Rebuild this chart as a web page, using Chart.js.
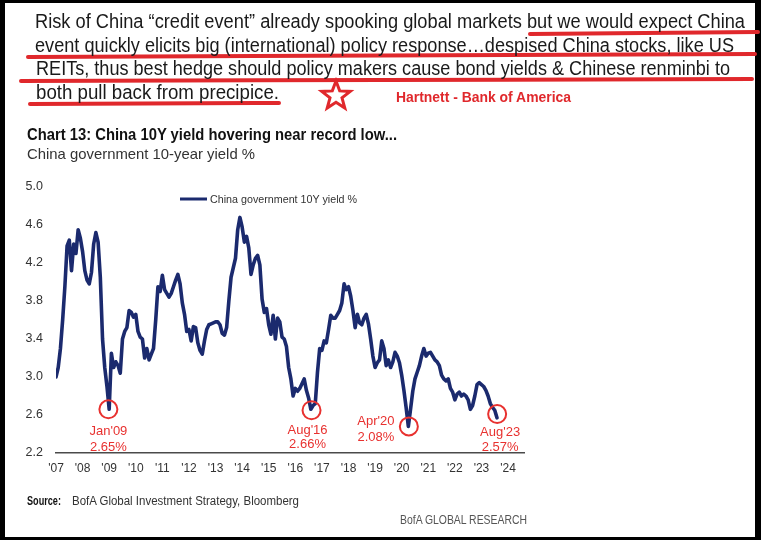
<!DOCTYPE html>
<html><head><meta charset="utf-8">
<script src="https://cdn.jsdelivr.net/npm/chart.js@4.4.0/dist/chart.umd.min.js"></script>
<style>
html,body{margin:0;padding:0;background:#000;width:761px;height:540px;overflow:hidden}
#page{position:absolute;left:5px;top:3px;width:750px;height:534px;background:#fff}
#c{position:absolute;left:0;top:0}
#ov{position:absolute;left:0;top:0;pointer-events:none;font-family:'Liberation Sans Narrow','Liberation Sans',Arial,sans-serif}
</style></head><body>
<div id="page"></div>
<canvas id="c" width="761" height="540"></canvas>
<svg id="ov" width="761" height="540" xmlns="http://www.w3.org/2000/svg">
  <g stroke="#e0282c" stroke-width="4" stroke-linecap="round">
    <line x1="530" y1="34" x2="758" y2="32"/>
    <line x1="28" y1="57" x2="755" y2="54"/>
    <line x1="21" y1="81" x2="752" y2="79"/>
    <line x1="30" y1="104" x2="279" y2="103"/>
  </g>
  <g fill="#1a1a1a" font-size="20">
    <text x="35" y="28" textLength="710" lengthAdjust="spacingAndGlyphs">Risk of China “credit event” already spooking global markets but we would expect China</text>
    <text x="35" y="51.5" textLength="699" lengthAdjust="spacingAndGlyphs">event quickly elicits big (international) policy response…despised China stocks, like US</text>
    <text x="36" y="75" textLength="694" lengthAdjust="spacingAndGlyphs">REITs, thus best hedge should policy makers cause bond yields &amp; Chinese renminbi to</text>
    <text x="36" y="98.5" textLength="243" lengthAdjust="spacingAndGlyphs">both pull back from precipice.</text>
  </g>
  <polygon id="star" fill="#fff" stroke="#e0282c" stroke-width="3" stroke-linejoin="miter"/>
  <text x="396" y="102" textLength="175" lengthAdjust="spacingAndGlyphs" font-weight="bold" font-size="14" fill="#e0282c">Hartnett - Bank of America</text>
  <text x="27" y="140" textLength="370" lengthAdjust="spacingAndGlyphs" font-weight="bold" font-size="16" fill="#111">Chart 13: China 10Y yield hovering near record low...</text>
  <text x="27" y="159" textLength="228" lengthAdjust="spacingAndGlyphs" font-size="14.5" fill="#333">China government 10-year yield %</text>
  <line x1="180" y1="199" x2="207" y2="199" stroke="#1b2a6e" stroke-width="3"/>
  <text x="210" y="203" textLength="147" lengthAdjust="spacingAndGlyphs" font-size="11.5" fill="#333">China government 10Y yield %</text>
  <text x="27" y="505" textLength="34" lengthAdjust="spacingAndGlyphs" font-weight="bold" font-size="12" fill="#111">Source:</text>
  <text x="72" y="505" textLength="227" lengthAdjust="spacingAndGlyphs" font-size="12" fill="#333">BofA Global Investment Strategy, Bloomberg</text>
  <text x="400" y="524" textLength="127" lengthAdjust="spacingAndGlyphs" font-size="12" fill="#555">BofA GLOBAL RESEARCH</text>
</svg>
<script>
// ---- data (monthly China 10Y government bond yield, %) ----
const years = [2007,2008,2009,2010,2011,2012,2013,2014,2015,2016,2017,2018,2019,2020,2021,2022,2023];
const y07 = [3.00,3.10,3.30,3.60,3.95,4.38,4.44,4.12,4.40,4.30,4.55,4.46];
const y08 = [4.32,4.12,4.02,3.98,4.10,4.40,4.52,4.42,4.05,3.40,3.10,2.90];
const y09 = [2.66,3.25,3.10,3.16,3.12,3.04,3.40,3.48,3.52,3.70,3.68,3.63];
const y10 = [3.66,3.48,3.42,3.40,3.20,3.30,3.18,3.24,3.30,3.60,3.95,3.90];
const y11 = [4.07,3.92,3.88,3.84,3.88,3.95,4.02,4.08,3.98,3.78,3.66,3.48];
const y12 = [3.50,3.38,3.53,3.52,3.36,3.28,3.24,3.38,3.50,3.55,3.56,3.57];
const y13 = [3.58,3.58,3.55,3.46,3.44,3.52,3.80,4.05,4.15,4.25,4.55,4.68];
const y14 = [4.58,4.42,4.48,4.36,4.08,4.18,4.25,4.28,4.18,3.82,3.68,3.72];
const y15 = [3.55,3.45,3.65,3.40,3.62,3.58,3.42,3.40,3.32,3.10,2.98,2.80];
const y16 = [2.88,2.85,2.88,2.93,2.98,2.86,2.78,2.66,2.70,2.72,3.05,3.30];
const y17 = [3.28,3.38,3.36,3.50,3.65,3.62,3.62,3.66,3.70,3.78,3.98,3.92];
const y18 = [3.95,3.85,3.70,3.52,3.66,3.57,3.55,3.62,3.66,3.56,3.40,3.22];
const y19 = [3.10,3.15,3.18,3.38,3.30,3.12,3.18,3.10,3.16,3.26,3.22,3.15];
const y20 = [3.02,2.86,2.68,2.48,2.66,2.85,2.98,3.05,3.12,3.22,3.30,3.22];
const y21 = [3.25,3.26,3.22,3.18,3.16,3.12,3.02,2.98,2.96,2.98,2.88,2.84];
const y22 = [2.76,2.82,2.84,2.80,2.82,2.80,2.76,2.66,2.70,2.80,2.92,2.94];
const y23 = [2.92,2.90,2.86,2.80,2.72,2.68,2.65,2.57];
const series = [y07,y08,y09,y10,y11,y12,y13,y14,y15,y16,y17,y18,y19,y20,y21,y22,y23];
const seriesLabel = 'China government 10Y yield %';
const xTicks = [2007,2008,2009,2010,2011,2012,2013,2014,2015,2016,2017,2018,2019,2020,2021,2022,2023,2024];
const yTicks = [2.2,2.6,3.0,3.4,3.8,4.2,4.6,5.0];
// marked lows
const lowDates  = [2008.97, 2016.61, 2020.27, 2023.59];
const lowValues = [2.66, 2.65, 2.48, 2.61];
const lowNames  = ["Jan'09", "Aug'16", "Apr'20", "Aug'23"];
const lowTexts  = ["2.65%", "2.66%", "2.08%", "2.57%"];

// star decoration
(function(){
  const cx=336, cy=96, R=15, r=6.3, pts=[];
  for(let k=0;k<10;k++){const a=-Math.PI/2+k*Math.PI/5, rr=k%2?r:R; pts.push((cx+rr*Math.cos(a)).toFixed(1)+','+(cy+rr*Math.sin(a)).toFixed(1));}
  document.getElementById('star').setAttribute('points', pts.join(' '));
})();

const points = [];
years.forEach((yr,i)=>series[i].forEach((v,m)=>points.push({x: yr + m/12, y: v})));

const FONT = "'Liberation Sans Narrow','Liberation Sans',Arial,sans-serif";
const labelOffsets = [[0,22,38],[-4,20,34],[-33,-5,11],[3,18,33]];
const lowMarks = {
  id:'lowMarks',
  afterDatasetsDraw(chart){
    const {ctx, scales:{x,y}} = chart;
    ctx.save();
    ctx.strokeStyle = '#e8312f'; ctx.fillStyle = '#e8312f'; ctx.lineWidth = 2;
    ctx.font = '13px ' + FONT; ctx.textAlign = 'center'; ctx.textBaseline = 'middle';
    lowDates.forEach((d,i)=>{
      const px = x.getPixelForValue(d), py = y.getPixelForValue(lowValues[i]);
      ctx.beginPath(); ctx.arc(px, py, 9, 0, Math.PI*2); ctx.stroke();
      const o = labelOffsets[i];
      ctx.fillText(lowNames[i], px+o[0], py+o[1]);
      ctx.fillText(lowTexts[i], px+o[0], py+o[2]);
    });
    ctx.restore();
  }
};

new Chart(document.getElementById('c').getContext('2d'), {
  type:'line',
  data:{datasets:[{label:seriesLabel, data:points, borderColor:'#1b2a6e', borderWidth:3.6, pointRadius:0, tension:0, fill:false, borderJoinStyle:'round', borderCapStyle:'round'}]},
  options:{
    responsive:false, animation:false, devicePixelRatio:1,
    layout:{padding:{left:0, top:187, right:237, bottom:57}},
    plugins:{legend:{display:false}, tooltip:{enabled:false}, title:{display:false}},
    scales:{
      x:{type:'linear', min:2007, max:2024.6,
         grid:{display:false, drawTicks:false}, border:{display:true, color:'#4a4a4a', width:1.6},
         afterBuildTicks: s => { s.ticks = xTicks.map(v=>({value:v})); },
         afterFit: s => { s.height = 30; },
         ticks:{padding:8, maxRotation:0, autoSkip:false, color:'#333', font:{family:FONT, size:12},
                callback: v => "'" + String(v).slice(2)}},
      y:{type:'linear', min:2.2, max:5.0,
         grid:{display:false, drawTicks:false}, border:{display:false},
         afterBuildTicks: s => { s.ticks = yTicks.map(v=>({value:v})); },
         afterFit: s => { s.width = 56; },
         ticks:{padding:13, color:'#333', font:{family:FONT, size:12.5}, callback: v => Number(v).toFixed(1)}}
    }
  },
  plugins:[lowMarks]
});
</script>
</body></html>
